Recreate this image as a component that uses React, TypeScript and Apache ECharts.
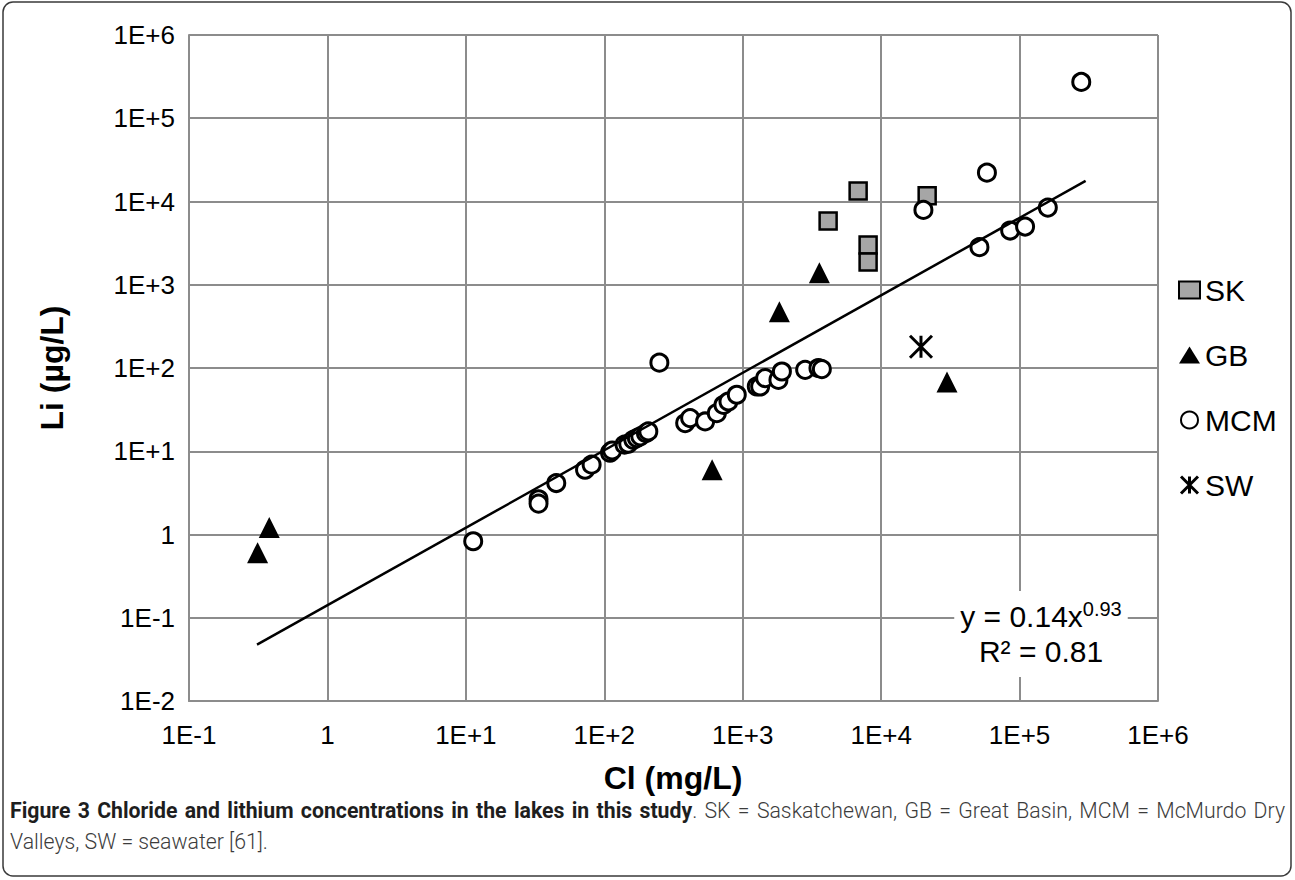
import { useEffect, useRef } from "react";
import * as echarts from "echarts";

const FONT = "'Liberation Sans', Arial, sans-serif";
const CAPTION_FONT = "Roboto, 'Liberation Sans', sans-serif";

// Axis tick labels (decades)
const X_MIN_EXP = -1;
const X_TICK_LABELS = ["1E-1", "1", "1E+1", "1E+2", "1E+3", "1E+4", "1E+5", "1E+6"];
const Y_MIN_EXP = -2;
const Y_TICK_LABELS = ["1E-2", "1E-1", "1", "1E+1", "1E+2", "1E+3", "1E+4", "1E+5", "1E+6"];

// SK = Saskatchewan
const SK_CL = [6820, 21500, 4140, 8050, 8050];
const SK_LI = [13400, 11700, 5850, 3010, 1880];

// GB = Great Basin
const GB_CL = [0.38, 0.313, 601, 1840, 3580, 29900];
const GB_LI = [1.21, 0.605, 6.0, 473, 1390, 68];

// MCM = McMurdo Dry Valleys
const MCM_CL = [11.3, 33.5, 33.5, 45, 72.6, 81, 110, 114, 140, 149, 162, 172, 182, 200, 208, 250, 384, 417, 535, 650, 726, 789, 906, 1264, 1336, 1452, 1811, 1919, 2825, 3524, 3730, 20200, 51300, 58100, 85500, 109600, 160000, 279000];
const MCM_LI = [0.83, 2.65, 2.35, 4.15, 6.0, 6.9, 9.6, 10.2, 12, 12.3, 13.7, 14.4, 15.1, 16.5, 17.3, 116, 21.8, 25, 22.8, 28.7, 36, 39.6, 47.7, 60, 60, 75.7, 72, 90.8, 95, 100, 97, 7930, 2830, 22200, 4480, 5000, 8450, 273000];

// SW = seawater
const SW_CL = [19400];
const SW_LI = [180];

// Power trendline endpoints (y = 0.14x^0.93)
const TREND_CL = [0.31, 300000];
const TREND_LI = [0.0475, 17700];

const CAPTION_BOLD = "Figure 3 Chloride and lithium concentrations in the lakes in this study";
const CAPTION_REST = ". SK = Saskatchewan, GB = Great Basin, MCM = McMurdo Dry";
const CAPTION_LINE2 = "Valleys, SW = seawater [61].";

const zip = (xs: number[], ys: number[]) => xs.map((x, i) => [x, ys[i]]);
const expOf = (v: number) => Math.round(Math.log10(v));

const ASTERISK = "path://M0,0L20,20M20,0L0,20M10,0L10,20";

function buildCaption(): any[] {
  const canvas = document.createElement("canvas");
  const ctx = canvas.getContext("2d")!;
  const BOLD_W = "bold";
  const NORM_W = "300";
  const measure = (t: string, size: number, weight: string) => {
    ctx.font = `${weight} ${size}px ${CAPTION_FONT}`;
    return ctx.measureText(t).width;
  };
  const left = 10;
  const right = 1285;
  const line2Target = 258;
  let size = 20 * line2Target / measure(CAPTION_LINE2, 20, NORM_W);

  type Seg = { text: string; bold: boolean };
  const boldWords = CAPTION_BOLD.split(" ");
  const restWords = CAPTION_REST.slice(1).trim().split(" ");
  const words: Seg[][] = boldWords.map((w) => [{ text: w, bold: true }]);
  words[words.length - 1].push({ text: ".", bold: false });
  restWords.forEach((w) => words.push([{ text: w, bold: false }]));

  const wordWidth = (w: Seg[], s: number) =>
    w.reduce((acc, seg) => acc + measure(seg.text, s, seg.bold ? BOLD_W : NORM_W), 0);
  let total = words.reduce((a, w) => a + wordWidth(w, size), 0);
  const minSpace = measure(" ", size, NORM_W);
  if (total + minSpace * (words.length - 1) > right - left) {
    size = size * (right - left) / (total + minSpace * (words.length - 1));
    total = words.reduce((a, w) => a + wordWidth(w, size), 0);
  }
  const gap = (right - left - total) / (words.length - 1);

  const els: any[] = [];
  let x = left;
  const mk = (text: string, px: number, py: number, bold: boolean) => ({
    type: "text",
    x: px,
    y: py,
    style: {
      text,
      align: "left",
      textAlign: "left",
      verticalAlign: "middle",
      textVerticalAlign: "middle",
      fontSize: size,
      fontWeight: bold ? "bold" : 300,
      fontFamily: CAPTION_FONT,
      fill: bold ? "#1e1e1e" : "#3c3c3c",
    },
  });
  words.forEach((w) => {
    let sx = x;
    w.forEach((seg) => {
      els.push(mk(seg.text, sx, 810, seg.bold));
      sx += measure(seg.text, size, seg.bold ? BOLD_W : NORM_W);
    });
    x = sx + gap;
  });
  els.push(mk(CAPTION_LINE2, left, 841, false));
  return els;
}

export default function App() {
  const ref = useRef<HTMLDivElement>(null);

  useEffect(() => {
    const chart = echarts.init(ref.current!, null, { renderer: "svg" });
    const gridColor = "#8c8c8c";
    const option: any = {
      animation: false,
      backgroundColor: "#ffffff",
      grid: { left: 189, top: 35, width: 969, height: 666, containLabel: false },
      xAxis: {
        type: "log",
        logBase: 10,
        min: 0.1,
        max: 1e6,
        interval: 1,
        splitNumber: 7,
        axisLine: { show: true, lineStyle: { color: gridColor, width: 2 } },
        axisTick: { show: false },
        minorTick: { show: false },
        splitLine: { show: true, lineStyle: { color: gridColor, width: 2 } },
        axisLabel: {
          fontSize: 26,
          color: "#000",
          fontFamily: FONT,
          margin: 21,
          formatter: (v: number) => X_TICK_LABELS[expOf(v) - X_MIN_EXP] ?? "",
        },
      },
      yAxis: {
        type: "log",
        logBase: 10,
        min: 0.01,
        max: 1e6,
        interval: 1,
        splitNumber: 8,
        axisLine: { show: true, lineStyle: { color: gridColor, width: 2 } },
        axisTick: { show: false },
        minorTick: { show: false },
        splitLine: { show: true, lineStyle: { color: gridColor, width: 2 } },
        axisLabel: {
          fontSize: 26,
          color: "#000",
          fontFamily: FONT,
          margin: 14,
          formatter: (v: number) => Y_TICK_LABELS[expOf(v) - Y_MIN_EXP] ?? "",
        },
      },
      legend: {
        data: [
          { name: "SK" },
          { name: "GB" },
          { name: "MCM" },
          { name: "SW", itemStyle: { borderWidth: 3, borderColor: "#000" } },
        ],
        orient: "vertical",
        left: 1173,
        top: 270,
        itemWidth: 21,
        itemHeight: 17,
        itemGap: 35,
        textStyle: { fontSize: 30, color: "#000", fontFamily: FONT },
      },
      series: [
        {
          name: "SK",
          type: "scatter",
          data: zip(SK_CL, SK_LI),
          symbol: "rect",
          symbolSize: 17,
          itemStyle: { color: "#a6a6a6", borderColor: "#000", borderWidth: 2.5, opacity: 1 },
          z: 2,
        },
        {
          name: "GB",
          type: "scatter",
          data: zip(GB_CL, GB_LI),
          symbol: "triangle",
          symbolSize: 21,
          itemStyle: { color: "#000", opacity: 1 },
          z: 3,
        },
        {
          name: "MCM",
          type: "scatter",
          data: zip(MCM_CL, MCM_LI),
          symbol: "circle",
          symbolSize: 17,
          itemStyle: { color: "#fff", borderColor: "#000", borderWidth: 3, opacity: 1 },
          z: 4,
        },
        {
          name: "SW",
          type: "scatter",
          data: zip(SW_CL, SW_LI),
          symbol: ASTERISK,
          symbolSize: 22,
          itemStyle: { color: "#000", borderColor: "#000", borderWidth: 3, opacity: 1 },
          z: 5,
        },
        {
          name: "trend",
          type: "line",
          data: zip(TREND_CL, TREND_LI),
          showSymbol: false,
          symbol: "none",
          lineStyle: { color: "#000", width: 2.5 },
          z: 6,
          silent: true,
        },
      ],
      graphic: [
        {
          type: "rect",
          shape: { x: 3, y: 2, width: 1288, height: 874, r: 10 },
          style: { fill: "none", stroke: "#3a3a3a", lineWidth: 1.5 },
          silent: true,
          z: 0,
        },
        {
          type: "text",
          x: 1041,
          y: 634,
          z: 100,
          style: {
            text: "{m|y = 0.14x}{s|0.93}\n{m|R² = 0.81}",
            align: "center",
            textAlign: "center",
            verticalAlign: "middle",
            textVerticalAlign: "middle",
            backgroundColor: "#fff",
            padding: [8, 6, 8, 6],
            rich: {
              m: { fontSize: 30, lineHeight: 35, fontFamily: FONT, fill: "#000", color: "#000" },
              s: { fontSize: 20, lineHeight: 35, fontFamily: FONT, fill: "#000", color: "#000", verticalAlign: "top" },
            },
          },
        },
        {
          type: "text",
          x: 673,
          y: 778,
          style: {
            text: "Cl (mg/L)",
            align: "center",
            textAlign: "center",
            verticalAlign: "middle",
            textVerticalAlign: "middle",
            fontSize: 32,
            fontWeight: "bold",
            fontFamily: FONT,
            fill: "#000",
          },
        },
        {
          type: "text",
          x: 52,
          y: 368,
          rotation: Math.PI / 2,
          style: {
            text: "Li (µg/L)",
            align: "center",
            textAlign: "center",
            verticalAlign: "middle",
            textVerticalAlign: "middle",
            fontSize: 32,
            fontWeight: "bold",
            fontFamily: FONT,
            fill: "#000",
          },
        },
        ...buildCaption(),
      ],
    };
    chart.setOption(option);
    return () => chart.dispose();
  }, []);

  return (
    <div
      ref={ref}
      style={{ position: "absolute", left: 0, top: 0, width: 1295, height: 880, background: "#fff" }}
    />
  );
}
